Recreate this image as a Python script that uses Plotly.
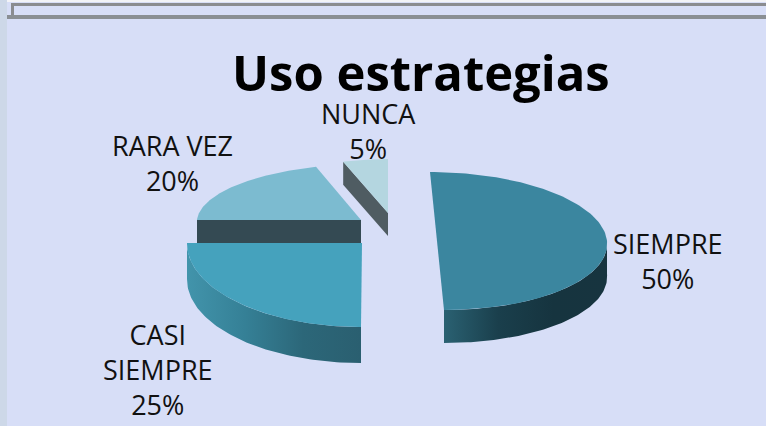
import numpy as np
import plotly.graph_objects as go

TITLE = "Uso estrategias"
categories = ["SIEMPRE", "CASI SIEMPRE", "RARA VEZ", "NUNCA"]
values = [50, 25, 20, 5]
label_text = ["SIEMPRE<br>50%", "CASI<br>SIEMPRE<br>25%", "RARA VEZ<br>20%", "NUNCA<br>5%"]

BG = "#d7def7"
FONT = "Open Sans"
TOP_COLORS = ["#3b869f", "#45a2bd", "#7cbbd0", "#b4d6e0"]

# exploded slices: centre x/y, x radius, y radius, skew, wall depth
SLICE_GEO = [
    (437, 241, 170, 69, -7, 33),
    (362, 243, 175, 84, 1, 36),
    (361, 220, 164, 56, 6, 23),
    (388, 213, 145, 54, 0, 23),
]
WALLS = {
    0: ["#2a6172", "#1a3f4c", "#16343f", "#17343f"],
    1: ["#4294ab", "#358096", "#2c6779", "#2a5f70"],
}
RADIAL_WALLS = {2: "#344a53", 3: "#4f5c62"}

LABEL_POS = [(668, 261), (158, 369), (172, 163), (368, 131)]


def ellipse_point(geo, t):
    cx, cy, rx, ry, skew, _ = geo
    return cx + rx * np.sin(t) + skew * np.cos(t), cy - ry * np.cos(t)


fig = go.Figure()

# window chrome of the screenshot
fig.add_shape(type="rect", x0=0, x1=766, y0=0, y1=2, fillcolor="#f2f3f7", line_width=0)
fig.add_shape(type="rect", x0=0, x1=7, y0=0, y1=426, fillcolor="#cdd8e8", line_width=0)
fig.add_shape(type="rect", x0=11, x1=766, y0=3, y1=6, fillcolor="#8a8c90", line_width=0)
fig.add_shape(type="rect", x0=11, x1=14, y0=3, y1=18, fillcolor="#8a8c90", line_width=0)
fig.add_shape(type="rect", x0=7, x1=766, y0=15, y1=19, fillcolor="#8a8f94", line_width=0)

edges = np.cumsum([0] + values) / sum(values) * 2 * np.pi
skip = dict(mode="lines", line_width=0, showlegend=False, hoverinfo="skip")

for i, name in enumerate(categories):
    geo = SLICE_GEO[i]
    t0, t1 = edges[i], edges[i + 1]
    depth = geo[5]

    # curved wall, only the near half of the rim shows
    if i in WALLS:
        a, b = max(t0, np.pi / 2), min(t1, 3 * np.pi / 2)
        ts = np.linspace(a, b, 80)
        x, y = ellipse_point(geo, ts)
        colors = WALLS[i]
        scale = [[k / (len(colors) - 1), c] for k, c in enumerate(colors)]
        fig.add_trace(go.Scatter(
            x=np.r_[x, x[::-1]], y=np.r_[y, y[::-1] + depth],
            fill="toself", fillgradient=dict(type="horizontal", colorscale=scale), **skip,
        ))

    # cut face that faces the viewer
    if i in RADIAL_WALLS:
        ex, ey = ellipse_point(geo, t0)
        fig.add_trace(go.Scatter(
            x=[geo[0], ex, ex, geo[0], geo[0]],
            y=[geo[1], ey, ey + depth, geo[1] + depth, geo[1]],
            fill="toself", fillcolor=RADIAL_WALLS[i], **skip,
        ))

    # top face
    ts = np.linspace(t0, t1, 120)
    x, y = ellipse_point(geo, ts)
    fig.add_trace(go.Scatter(
        x=np.r_[geo[0], x, geo[0]], y=np.r_[geo[1], y, geo[1]],
        fill="toself", fillcolor=TOP_COLORS[i], name=name, mode="lines",
        line_width=0, showlegend=False, hoverinfo="name",
    ))

for text, (lx, ly) in zip(label_text, LABEL_POS):
    fig.add_annotation(
        x=lx, y=ly, text=text, showarrow=False, align="center",
        font=dict(family=FONT, size=27, color="#111111"),
    )

fig.add_annotation(
    x=421, y=72, text="<b>" + TITLE + "</b>", showarrow=False,
    font=dict(family=FONT, size=49, color="#000000"),
)

fig.update_xaxes(range=[0, 766], visible=False)
fig.update_yaxes(range=[426, 0], visible=False)
fig.update_layout(
    width=766, height=426, margin=dict(l=0, r=0, t=0, b=0),
    paper_bgcolor=BG, plot_bgcolor=BG,
)
# drop the page's default body margin so the figure fills the window
fig.write_html(
    "out.html",
    config=dict(displayModeBar=False),
    post_script="document.body.style.margin='0';document.body.style.overflow='hidden';",
)
